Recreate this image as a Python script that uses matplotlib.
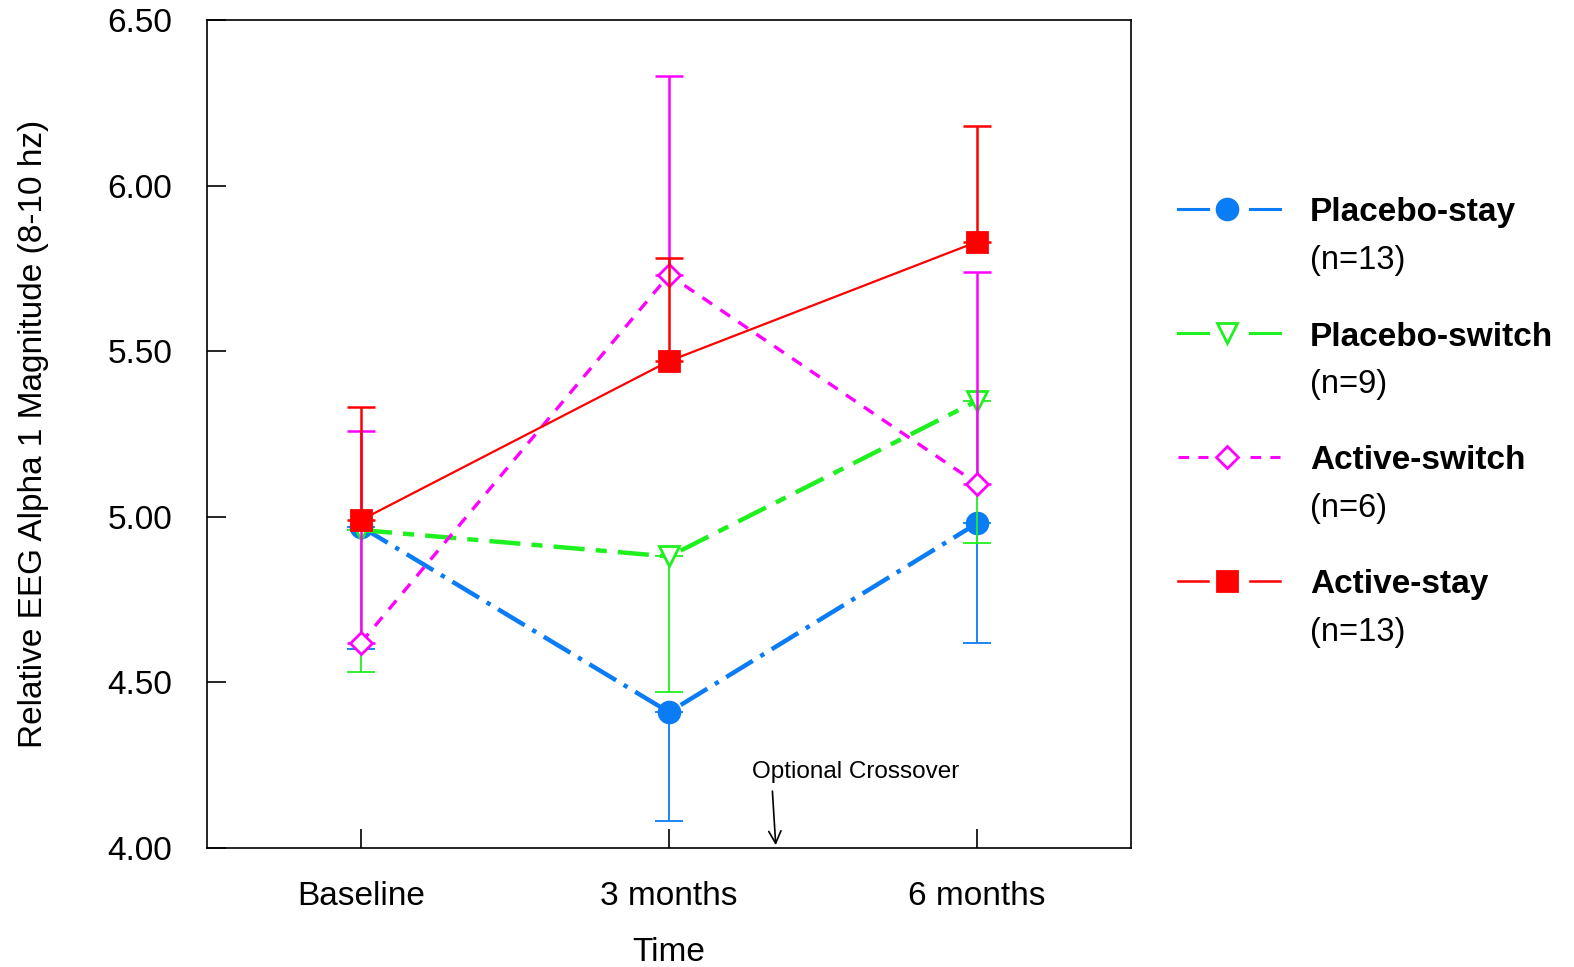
import numpy as np
import matplotlib.pyplot as plt
from matplotlib.lines import Line2D

plt.rcParams['font.family'] = ['Liberation Sans', 'DejaVu Sans']

times = ['Baseline', '3 months', '6 months']
x = np.arange(len(times))

# group means and one-sided error bars (placebo down, active up)
placebo_stay = [4.97, 4.41, 4.98]
placebo_stay_err = [0.37, 0.33, 0.36]
placebo_switch = [4.96, 4.88, 5.35]
placebo_switch_err = [0.43, 0.41, 0.43]
active_switch = [4.62, 5.73, 5.10]
active_switch_err = [0.64, 0.60, 0.64]
active_stay = [4.99, 5.47, 5.83]
active_stay_err = [0.34, 0.31, 0.35]

names = ['Placebo-stay', 'Placebo-switch', 'Active-switch', 'Active-stay']
counts = ['(n=13)', '(n=9)', '(n=6)', '(n=13)']

blue = '#0a7cf5'
green = '#1ff01f'
magenta = '#ff00ff'
red = '#ff0000'

fig = plt.figure(figsize=(15.74, 9.67), dpi=100)
ax = fig.add_axes([0.1315, 0.1231, 0.5871, 0.8563])

z = np.zeros(3)
series = [
    (placebo_stay, [placebo_stay_err, z], blue, 'o', (0, (7, 2, 1, 2)), 3.2, True),
    (placebo_switch, [placebo_switch_err, z], green, 'v', (0, (7, 2.5, 2.5, 2.5)), 3.2, False),
    (active_switch, [z, active_switch_err], magenta, 'D', (0, (3.5, 3)), 2.4, False),
    (active_stay, [z, active_stay_err], red, 's', '-', 1.6, True),
]
for y, err, c, m, ls, lw, filled in series:
    ew = 1.3 if c in (blue, green) else 1.8
    ax.errorbar(x, y, yerr=err, fmt='none', ecolor=c, elinewidth=ew,
                capsize=10, capthick=ew)
    ms = 11 if m == 'D' else 15
    ax.plot(x, y, color=c, ls=ls, lw=lw, marker=m, ms=ms,
            mfc=c if filled else 'white', mec=c, mew=2)

ax.set_xlim(-0.5, 2.5)
ax.set_ylim(4.0, 6.5)
ax.set_xticks(x)
ax.set_xticklabels(times)
ax.set_yticks(np.arange(4.0, 6.51, 0.5))
ax.set_yticklabels([f'{v:.2f}' for v in np.arange(4.0, 6.51, 0.5)])
ax.tick_params(direction='in', length=14, width=1.2, labelsize=24)
ax.tick_params(axis='x', pad=24)
ax.tick_params(axis='y', pad=25)
ax.tick_params(top=False, right=False)
for s in ax.spines.values():
    s.set_linewidth(1.2)
ax.set_xlabel('Time', fontsize=24, labelpad=18)
ax.set_ylabel('Relative EEG Alpha 1 Magnitude (8-10 hz)', fontsize=24, labelpad=42)

ax.annotate('', xy=(1.347, 4.0), xytext=(1.335, 4.18),
            arrowprops=dict(arrowstyle='->', color='black', lw=1.2, mutation_scale=22))
ax.text(1.27, 4.23, 'Optional Crossover', fontsize=17.5, ha='left', va='center')

# manual legend
W, H = 1574, 967
rows = [209, 333, 457, 581]
for (y, err, c, m, ls, lw, filled), nm, cnt, ry in zip(series, names, counts, rows):
    fy = 1 - ry / H
    lls = '-' if ls != (0, (3.5, 3)) else (0, (3.5, 3))
    for a, b in [(1178, 1208), (1250, 1280)]:
        fig.add_artist(Line2D([a / W, b / W], [fy, fy], color=c, lw=2.2 if c != red else 1.8, ls=lls))
    ms = 11 if m == 'D' else 15
    fig.add_artist(Line2D([1227 / W], [fy], marker=m, ms=ms, color=c,
                          mfc=c if filled else 'white', mec=c, mew=2))
    fig.text(1310 / W, 1 - (ry + 4) / H, nm, fontsize=24, fontweight='bold', va='center')
    fig.text(1310 / W, 1 - (ry + 51) / H, cnt, fontsize=23.5, va='center')

fig.savefig('out.png', dpi=100)
